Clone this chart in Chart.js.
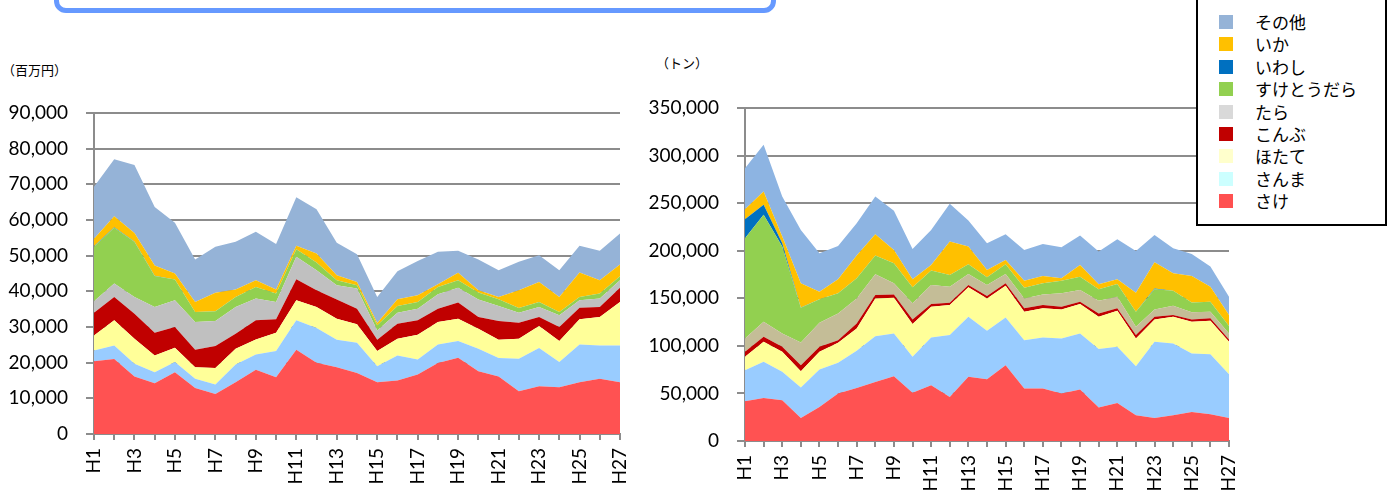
<!DOCTYPE html>
<html>
<head>
<meta charset="utf-8">
<script src="https://cdn.jsdelivr.net/npm/chart.js@4"></script>
<style>
    body { margin: 0; background: #fff; width: 1390px; height: 495px; overflow: hidden; position: relative; }
    .frame { position: absolute; left: 54px; top: -40px; width: 712px; height: 43px; border: 5px solid #6699FF; border-radius: 12px; }
    .unit { position: absolute; font-family: "Noto Sans CJK JP"; font-size: 13px; color: #000; }
    #leftBox { position: absolute; left: 0; top: 0; width: 640px; height: 495px; }
    #rightBox { position: absolute; left: 630px; top: 0; width: 620px; height: 495px; }
    #legend { position: absolute; left: 1196px; top: -4px; width: 187px; height: 226px; border: 2px solid #000; background: #fff;
        font-family: "Noto Sans CJK JP"; font-size: 17px; color: #000; }
    #legend div { position: absolute; left: 0; height: 22px; line-height: 22px; }
    #legend span.sw { position: absolute; left: 21px; top: 4px; width: 14px; height: 14px; }
    #legend span.tx { position: absolute; left: 57px; top: 0; white-space: nowrap; }
</style>
</head>
<body>
<div class="frame"></div>
<div class="unit" style="left:2px; top:60px;">（百万円）</div>
<div class="unit" style="left:656px; top:53px;">（トン）</div>
<div id="leftBox"><canvas id="valueChart"></canvas></div>
<div id="rightBox"><canvas id="volumeChart"></canvas></div>
<div id="legend"></div>
<script>
const years = ['H1', 'H2', 'H3', 'H4', 'H5', 'H6', 'H7', 'H8', 'H9', 'H10', 'H11', 'H12', 'H13', 'H14',
    'H15', 'H16', 'H17', 'H18', 'H19', 'H20', 'H21', 'H22', 'H23', 'H24', 'H25', 'H26', 'H27'];

const species = ['さけ', 'さんま', 'ほたて', 'こんぶ', 'たら', 'すけとうだら', 'いわし', 'いか', 'その他'];

// 生産額（百万円）
const valueSake    = [20400, 21000, 16100, 14250, 17300, 12900, 11250, 14500, 18000, 15900, 23600, 20000, 18750, 17100, 14500, 15000, 16700, 19900, 21400, 17600, 16100, 12000, 13400, 13100, 14500, 15500, 14500];
const valueSanma   = [3000, 3800, 3600, 3050, 2900, 2600, 2650, 5000, 4300, 7350, 8300, 9700, 7650, 8500, 4500, 7000, 4200, 5200, 4700, 6300, 5200, 9100, 10700, 7100, 10600, 9300, 10300];
const valueHotate  = [4250, 7100, 7000, 4700, 4000, 3250, 4600, 4400, 4200, 5150, 5600, 5900, 5900, 5150, 4250, 4700, 6950, 6300, 6200, 5600, 5100, 5600, 6200, 5900, 7100, 8000, 12200];
const valueKonbu   = [6350, 6500, 7050, 6400, 5800, 4850, 6200, 4200, 5400, 3800, 5900, 4700, 5400, 4400, 3150, 4200, 4050, 3750, 4550, 3300, 5300, 4500, 2500, 3900, 3200, 2800, 4000];
const valueTara    = [3200, 3800, 4650, 7200, 7500, 7800, 7000, 7500, 6100, 4800, 6300, 5600, 4000, 5650, 2600, 3100, 3250, 4050, 4150, 4900, 4200, 2800, 2800, 3300, 2100, 2400, 2100];
const valueSuketo  = [15300, 15600, 15500, 8700, 5800, 2800, 2700, 2800, 3250, 2400, 2100, 2200, 1400, 900, 1500, 1900, 1850, 2050, 2100, 2000, 1900, 1300, 1400, 900, 900, 1400, 1150];
const valueIwashi  = [150, 150, 100, 50, 0, 0, 0, 0, 0, 0, 0, 0, 0, 0, 0, 0, 0, 0, 0, 0, 0, 0, 0, 0, 0, 0, 0];
const valueIka     = [2100, 3100, 2350, 2900, 1700, 2800, 5200, 2100, 1850, 1100, 1000, 2500, 1400, 950, 600, 1900, 1900, 750, 2100, 600, 600, 5000, 5650, 4200, 6900, 3700, 3250];
const valueSonota  = [14600, 16000, 19050, 16400, 14250, 11900, 12900, 13400, 13600, 12750, 13600, 12400, 9100, 7750, 7300, 7850, 9600, 9100, 6200, 8600, 7500, 8000, 7500, 7500, 7500, 8300, 8750];

// 生産量（トン）
const volumeSake   = [41800, 45300, 42800, 24200, 35800, 49900, 55800, 62100, 68100, 50600, 58600, 46300, 67400, 65000, 79700, 55100, 55100, 49900, 54100, 35100, 40000, 27000, 24200, 27000, 30500, 28100, 24200];
const volumeSanma  = [32600, 37900, 29900, 32000, 39300, 32300, 39000, 48100, 45000, 37900, 50200, 65000, 63200, 50900, 50200, 50900, 53700, 57900, 59000, 61500, 59000, 51600, 80100, 75500, 61500, 63200, 46000];
const volumeHotate = [14100, 21100, 21000, 17200, 18600, 21000, 23500, 39700, 37500, 34400, 32300, 31600, 30900, 34000, 33400, 29900, 30600, 30500, 30800, 34000, 37900, 29200, 23500, 28100, 33300, 35100, 34100];
const volumeKonbu  = [5200, 5200, 5300, 6300, 5300, 2800, 5300, 3500, 3500, 4900, 2800, 2500, 2500, 2500, 2400, 3500, 3500, 2800, 2500, 3500, 2500, 3500, 2800, 1800, 2500, 2500, 2400];
const volumeTara   = [14100, 15800, 14000, 23900, 25300, 28100, 26300, 21800, 11600, 16900, 20100, 16800, 11600, 11600, 9900, 10500, 11200, 14100, 12300, 13400, 12300, 8800, 7700, 9800, 7400, 7000, 6300];
const volumeSuketo = [105300, 112400, 91300, 36500, 24600, 21100, 21100, 19700, 21100, 16800, 15100, 12300, 10100, 8000, 10100, 11300, 11600, 13300, 14000, 11900, 13300, 15800, 21100, 15800, 10500, 10500, 7800];
const volumeIwashi = [20000, 10500, 3600, 300, 0, 0, 0, 0, 0, 0, 0, 0, 0, 0, 0, 0, 0, 0, 0, 0, 0, 0, 800, 0, 0, 0, 0];
const volumeIka    = [10600, 14100, 7000, 25300, 8000, 14700, 23900, 22400, 14000, 8400, 5900, 35100, 18600, 7800, 4600, 7300, 7700, 2500, 12300, 5300, 4900, 20000, 27600, 18300, 27700, 15800, 11600];
const volumeSonota = [43100, 49100, 42100, 56200, 40400, 35100, 34000, 39700, 41100, 32000, 36900, 39700, 27400, 28100, 27000, 32300, 33700, 32600, 30900, 34400, 42200, 43900, 28800, 26300, 23200, 21100, 19300];

const valueSeries = [valueSake, valueSanma, valueHotate, valueKonbu, valueTara, valueSuketo, valueIwashi, valueIka, valueSonota];
const volumeSeries = [volumeSake, volumeSanma, volumeHotate, volumeKonbu, volumeTara, volumeSuketo, volumeIwashi, volumeIka, volumeSonota];

const valueColors  = ['#FF5252', '#99CCFF', '#FFFF99', '#C00000', '#C0C0C0', '#92D050', '#0070C0', '#FFC000', '#95B3D7'];
const volumeColors = ['#FF5252', '#99CCFF', '#FFFF99', '#C00000', '#C4BD97', '#92D050', '#0070C0', '#FFC000', '#8DB4E2'];
const legendColors = ['#FF5050', '#CCFFFF', '#FFFFCC', '#C00000', '#D9D9D9', '#92D050', '#0070C0', '#FFC000', '#95B3D7'];

// legend, top entry = last series
const legend = document.getElementById('legend');
for (let i = species.length - 1; i >= 0; i--) {
    const row = document.createElement('div');
    row.style.top = (13 + (species.length - 1 - i) * 22.4) + 'px';
    row.innerHTML = '<span class="sw" style="background:' + legendColors[i] + '"></span><span class="tx">' + species[i] + '</span>';
    legend.appendChild(row);
}

Chart.defaults.font.family = 'Lato';
Chart.defaults.color = '#000';

function makeChart(id, series, colors, yMax, yStep, box) {
    return new Chart(document.getElementById(id), {
        type: 'line',
        data: {
            labels: years,
            datasets: series.map((s, i) => ({
                label: species[i],
                data: s,
                backgroundColor: colors[i],
                borderWidth: 0,
                pointRadius: 0,
                fill: i === 0 ? 'origin' : '-1'
            }))
        },
        options: {
            responsive: true,
            maintainAspectRatio: false,
            animation: false,
            layout: { padding: { top: box.top, right: box.right, left: 0, bottom: 0 } },
            plugins: { legend: { display: false }, tooltip: { enabled: false } },
            elements: { line: { tension: 0 } },
            scales: {
                x: {
                    offset: false,
                    grid: { drawOnChartArea: false, drawTicks: true, tickLength: 6, color: '#8C8C8C', lineWidth: 2 },
                    border: { color: '#8C8C8C', width: 2 },
                    ticks: {
                        autoSkip: false, maxRotation: 90, minRotation: 90, padding: 8,
                        font: { size: 19 },
                        callback: (v, i) => i % 2 === 0 ? years[i] : ''
                    },
                    afterFit: scale => {
                        scale.height = box.xHeight;
                        scale.paddingLeft = 0;
                        scale.paddingRight = 0;
                    }
                },
                y: {
                    stacked: true,
                    min: 0, max: yMax,
                    grid: { color: '#8C8C8C', lineWidth: 2, tickLength: 8 },
                    border: { color: '#8C8C8C', width: 2 },
                    ticks: {
                        stepSize: yStep, padding: 18,
                        font: { size: 19 },
                        callback: v => v.toLocaleString('en-US')
                    },
                    afterFit: scale => { scale.width = box.yWidth; }
                }
            }
        }
    });
}

makeChart('valueChart', valueSeries, valueColors, 90000, 10000, { top: 113, right: 20, yWidth: 94, xHeight: 61 });
makeChart('volumeChart', volumeSeries, volumeColors, 350000, 50000, { top: 108, right: 21, yWidth: 115, xHeight: 54 });
</script>
</body>
</html>
